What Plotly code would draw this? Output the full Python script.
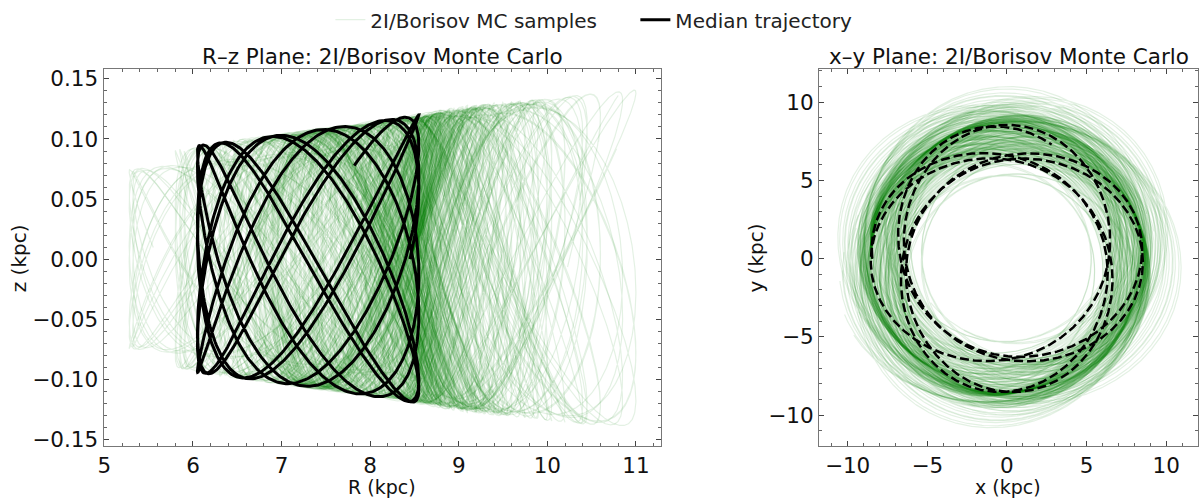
import numpy as np
import plotly.graph_objects as go

# ---- data -----------------------------------------------------------------
# Monte Carlo sample orbits: pericentre R, apocentre R (kpc), max |z| at apocentre (kpc)
sample_r_min = [5.28, 5.32, 5.80, 5.85, 5.90, 6.05, 6.10, 6.20, 6.30, 6.35,
                6.45, 6.50, 6.60, 6.70, 6.80, 6.88, 6.90, 6.95, 7.00, 7.05,
                7.10, 7.15, 7.20, 7.25, 7.30, 7.40, 7.45, 7.55, 7.60, 7.70,
                7.75, 7.85, 7.90, 8.00, 8.05, 8.10, 8.15, 8.20, 8.25, 8.30,
                8.35, 8.40, 8.42, 8.45, 8.48, 8.50, 8.52, 8.55, 8.55, 8.58,
                8.60, 6.95, 7.35, 6.75, 7.95, 8.38]
sample_r_max = [8.55, 8.62, 8.60, 8.70, 8.58, 8.62, 8.75, 8.65, 8.80, 8.70,
                8.90, 8.68, 8.85, 8.95, 8.72, 9.05, 8.80, 9.10, 8.78, 9.00,
                8.66, 9.20, 8.90, 9.30, 8.84, 9.15, 8.75, 9.40, 8.95, 9.25,
                8.70, 9.50, 9.05, 9.35, 8.80, 9.60, 9.10, 9.70, 9.45, 9.85,
                9.20, 10.00, 9.55, 10.20, 9.90, 10.40, 10.60, 10.45, 10.85, 11.00,
                10.05, 8.64, 8.92, 8.82, 9.28, 9.75]
sample_z_max = [0.102, 0.100, 0.118, 0.120, 0.116, 0.120, 0.122, 0.118, 0.124, 0.121,
                0.125, 0.119, 0.123, 0.126, 0.120, 0.127, 0.122, 0.128, 0.121, 0.125,
                0.119, 0.128, 0.124, 0.129, 0.122, 0.126, 0.121, 0.130, 0.124, 0.127,
                0.120, 0.131, 0.125, 0.128, 0.122, 0.131, 0.126, 0.132, 0.129, 0.133,
                0.127, 0.134, 0.130, 0.136, 0.133, 0.137, 0.139, 0.138, 0.140, 0.141,
                0.135, 0.119, 0.124, 0.122, 0.128, 0.132]

# median trajectory
median_r_min = 6.05
median_r_max = 8.55
median_z_max = 0.120

r_ticks = [5, 6, 7, 8, 9, 10, 11]
z_ticks = [-0.15, -0.10, -0.05, 0.00, 0.05, 0.10, 0.15]
xy_ticks = [-10, -5, 0, 5, 10]

# ---- orbit integration settings ---------------------------------------------
T_MYR = 1000.0      # integration time
N_T = 2500
V_C = 0.235         # kpc / Myr (flat rotation curve)
NU_8 = 0.062        # vertical frequency at R = 8 kpc (rad / Myr)
H_NU = 5.2          # scale length of vertical frequency (kpc)
R_NOW = 8.45        # present galactocentric radius
PHI_NOW = np.pi     # present azimuth


def orbit(rmin, rmax, zmax):
    t = np.linspace(0.0, T_MYR, N_T)
    dt = t[1] - t[0]
    rg = 0.5 * (rmin + rmax)
    a = 0.5 * (rmax - rmin)
    kappa = np.sqrt(2.0) * V_C / rg
    ph = np.arccos(np.clip((rg - R_NOW) / a, -1.0, 1.0))
    R = rg - a * np.cos(kappa * t + ph)
    lz = V_C * rg
    phi = PHI_NOW - np.concatenate([[0.0], np.cumsum(lz / R[:-1] ** 2 * dt)])
    nu = NU_8 * np.exp(-(R - 8.0) / H_NU)
    nu_apo = NU_8 * np.exp(-(rmax - 8.0) / H_NU)
    amp = zmax * np.sqrt(nu_apo / nu)
    theta = np.concatenate([[0.0], np.cumsum(nu[:-1] * dt)])
    z = amp * np.sin(theta)
    x = R * np.cos(phi)
    y = R * np.sin(phi)
    return R, z, x, y


fig = go.Figure()

GREEN = "rgba(0,128,0,0.11)"
for i, (rmin, rmax, zmax) in enumerate(zip(sample_r_min, sample_r_max, sample_z_max)):
    R, z, x, y = orbit(rmin, rmax, zmax)
    fig.add_trace(go.Scatter(x=R, y=z, mode="lines", line=dict(color=GREEN, width=1.2),
                             name="2I/Borisov MC samples", legendgroup="mc",
                             showlegend=(i == 0), hoverinfo="skip", xaxis="x", yaxis="y"))
    fig.add_trace(go.Scatter(x=x, y=y, mode="lines", line=dict(color=GREEN, width=1.2),
                             name="2I/Borisov MC samples", legendgroup="mc",
                             showlegend=False, hoverinfo="skip", xaxis="x2", yaxis="y2"))

R, z, x, y = orbit(median_r_min, median_r_max, median_z_max)
fig.add_trace(go.Scatter(x=R, y=z, mode="lines", line=dict(color="black", width=3),
                         name="Median trajectory", legendgroup="med", showlegend=True,
                         xaxis="x", yaxis="y"))
fig.add_trace(go.Scatter(x=x, y=y, mode="lines",
                         line=dict(color="black", width=2.5, dash="9px,4px"),
                         name="Median trajectory", legendgroup="med", showlegend=False,
                         xaxis="x2", yaxis="y2"))

W, H = 1200, 502
FONT = "DejaVu Sans"


def ax(domain, rng, tickvals, minor_dtick, minor_tick0, fmt=None, anchor=None):
    d = dict(domain=domain, range=rng, tickvals=tickvals, ticks="inside", ticklen=5,
             tickwidth=1, tickcolor="#444", showline=True, linecolor="#777", linewidth=1,
             mirror="allticks", showgrid=False, zeroline=False,
             tickfont=dict(family=FONT, size=21.5, color="#111"),
             minor=dict(dtick=minor_dtick, tick0=minor_tick0, ticks="inside", ticklen=3,
                        tickcolor="#666", showgrid=False),
             anchor=anchor)
    if fmt:
        d["tickformat"] = fmt
    return d


ydom = [1 - 450 / H, 1 - 63 / H]
fig.update_layout(
    width=W, height=H, margin=dict(l=0, r=0, t=0, b=0),
    paper_bgcolor="white", plot_bgcolor="white",
    xaxis=ax([98 / W, 658 / W], [4.99, 11.28], r_ticks, 0.2, 5, anchor="y"),
    yaxis=ax(ydom, [-0.156, 0.158], z_ticks, 0.01, 0, fmt=".2f", anchor="x"),
    xaxis2=ax([817 / W, 1198 / W], [-11.8, 12.0], xy_ticks, 1, 0, anchor="y2"),
    yaxis2=ax(ydom, [-12.0, 12.1], xy_ticks, 1, 0, anchor="x2"),
    showlegend=True,
    legend=dict(orientation="h", x=326 / W, xanchor="left", y=1 + 8 / H, yanchor="top",
                font=dict(family=FONT, size=20, color="#222"), bgcolor="rgba(0,0,0,0)",
                entrywidth=260, tracegroupgap=0),
    font=dict(family=FONT),
)


def ann(text, px, py, size, angle=0):
    return dict(text=text, x=px / W, y=1 - py / H, xref="paper", yref="paper",
                showarrow=False, xanchor="center", yanchor="middle", textangle=angle,
                font=dict(family=FONT, size=size, color="#111"))


fig.update_layout(annotations=[
    ann("R–z Plane: 2I/Borisov Monte Carlo", 378, 50, 21.5),
    ann("x–y Plane: 2I/Borisov Monte Carlo", 1008, 50, 21.5),
    ann("R (kpc)", 378, 492, 19),
    ann("x (kpc)", 1007, 492, 19),
    ann("z (kpc)", 13, 257, 20, -90),
    ann("y (kpc)", 754, 257, 20, -90),
])

fig.write_html("out.html")
